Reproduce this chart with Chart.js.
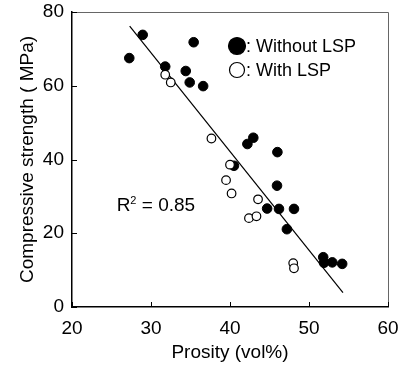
<!DOCTYPE html>
<html>
<head>
<meta charset="utf-8">
<script src="https://cdn.jsdelivr.net/npm/chart.js@4.4.1/dist/chart.umd.min.js"></script>
<style>
  html, body { margin: 0; padding: 0; background: #fff; }
  #wrap { width: 399px; height: 366px; }
</style>
</head>
<body>
<div id="wrap"><canvas id="strengthChart" width="399" height="366"></canvas></div>
<script>
// porosity (vol%) vs compressive strength (MPa)
const porosityWithout = [27.25, 28.95, 35.4, 31.8, 34.4, 34.9, 36.6, 42.95, 42.2, 46.0, 40.5, 45.95, 44.7, 46.2, 48.1, 47.2, 51.8, 51.9, 52.95, 54.2];
const strengthWithout = [67.5, 73.8, 71.8, 65.2, 64.0, 60.9, 59.9, 45.9, 44.2, 42.0, 38.3, 32.9, 26.7, 26.6, 26.6, 21.1, 13.5, 12.0, 12.1, 11.7];

const porosityWith = [31.8, 32.5, 37.65, 40.0, 39.5, 40.2, 43.55, 42.4, 43.35, 48.0, 48.1];
const strengthWith = [63.0, 60.9, 45.7, 38.6, 34.4, 30.8, 29.2, 24.1, 24.6, 11.9, 10.5];

// linear fit drawn across the data
const fitX = [27.3, 54.3];
const fitY = [76.2, 3.9];
const rSquared = "0.85";

const xTicks = [20, 30, 40, 50, 60];
const yTicks = [0, 20, 40, 60, 80];

const FONT = "'Liberation Sans', Arial, sans-serif";

function toPoints(xs, ys) {
  return xs.map((x, i) => ({ x: x, y: ys[i] }));
}

// inward tick marks, box frame, R² note and marker legend
const decorations = {
  id: 'decorations',
  afterDatasetsDraw(chart) {
    const ctx = chart.ctx;
    const area = chart.chartArea;
    const xs = chart.scales.x;
    const ys = chart.scales.y;
    ctx.save();

    // top and right frame
    ctx.strokeStyle = '#666';
    ctx.lineWidth = 1;
    ctx.beginPath();
    ctx.moveTo(area.left, area.top + 0.5);
    ctx.lineTo(area.right + 0.5, area.top + 0.5);
    ctx.lineTo(area.right + 0.5, area.bottom);
    ctx.stroke();

    // tick marks pointing into the plot
    ctx.strokeStyle = '#000';
    ctx.lineWidth = 1;
    ctx.beginPath();
    xTicks.forEach(v => {
      const px = Math.round(xs.getPixelForValue(v)) + 0.5;
      ctx.moveTo(px, area.bottom);
      ctx.lineTo(px, area.bottom - 5);
    });
    yTicks.forEach(v => {
      const py = Math.round(ys.getPixelForValue(v)) + 0.5;
      ctx.moveTo(area.left, py);
      ctx.lineTo(area.left + 5, py);
    });
    ctx.stroke();

    // R² annotation
    ctx.fillStyle = '#000';
    ctx.textBaseline = 'alphabetic';
    ctx.textAlign = 'left';
    let tx = xs.getPixelForValue(25.65);
    const ty = ys.getPixelForValue(26.0);
    ctx.font = '19px ' + FONT;
    ctx.fillText('R', tx, ty);
    tx += ctx.measureText('R').width;
    ctx.font = '11px ' + FONT;
    ctx.fillText('2', tx, ty - 7);
    tx += ctx.measureText('2').width;
    ctx.font = '19px ' + FONT;
    ctx.fillText(' = ' + rSquared, tx, ty);

    // legend
    const rows = [
      { ds: chart.data.datasets[1], cy: area.top + 34 },
      { ds: chart.data.datasets[0], cy: area.top + 58 }
    ];
    const cx = area.left + 165;
    rows.forEach((row, i) => {
      ctx.beginPath();
      ctx.arc(cx, row.cy, i === 0 ? 8.5 : 7.5, 0, Math.PI * 2);
      ctx.fillStyle = row.ds.backgroundColor;
      ctx.fill();
      ctx.lineWidth = 1.2;
      ctx.strokeStyle = '#000';
      ctx.stroke();
      ctx.fillStyle = '#000';
      ctx.font = '18px ' + FONT;
      ctx.textBaseline = 'middle';
      ctx.fillText(': ' + row.ds.label, cx + 9, row.cy + 1);
    });
    ctx.restore();
  }
};

new Chart(document.getElementById('strengthChart').getContext('2d'), {
  type: 'scatter',
  data: {
    datasets: [
      {
        label: 'With LSP',
        data: toPoints(porosityWith, strengthWith),
        backgroundColor: '#fff',
        borderColor: '#000',
        borderWidth: 1.2,
        pointRadius: 4.3,
        order: 1
      },
      {
        label: 'Without LSP',
        data: toPoints(porosityWithout, strengthWithout),
        backgroundColor: '#000',
        borderColor: '#000',
        borderWidth: 1,
        pointRadius: 4.8,
        order: 2
      },
      {
        label: 'fit',
        data: toPoints(fitX, fitY),
        showLine: true,
        borderColor: '#000',
        borderWidth: 1.2,
        pointRadius: 0,
        order: 3
      }
    ]
  },
  options: {
    responsive: false,
    animation: false,
    events: [],
    layout: { padding: { top: 12, right: 11, left: 0, bottom: 0 } },
    plugins: {
      legend: { display: false },
      tooltip: { enabled: false }
    },
    scales: {
      x: {
        type: 'linear',
        min: 20, max: 60,
        afterFit: s => { s.height = 59; s.paddingLeft = 0; s.paddingRight = 0; },
        afterBuildTicks: s => { s.ticks = xTicks.map(v => ({ value: v })); },
        grid: { display: false, drawTicks: false },
        border: { display: true, color: '#000', width: 1.5 },
        ticks: { color: '#000', padding: 10, font: { family: FONT, size: 19 } },
        title: {
          display: true,
          text: 'Prosity (vol%)',
          color: '#000',
          font: { family: FONT, size: 19 },
          padding: { top: 0, bottom: 2 }
        }
      },
      y: {
        type: 'linear',
        min: 0, max: 80,
        afterFit: s => { s.width = 72; s.paddingTop = 0; s.paddingBottom = 0; },
        afterBuildTicks: s => { s.ticks = yTicks.map(v => ({ value: v })); },
        grid: { display: false, drawTicks: false },
        border: { display: true, color: '#000', width: 1.5 },
        ticks: { color: '#000', padding: 8, font: { family: FONT, size: 19 } },
        title: {
          display: true,
          text: 'Compressive strength ( MPa)',
          color: '#000',
          font: { family: FONT, size: 19 },
          padding: { top: 16, bottom: 0 }
        }
      }
    }
  },
  plugins: [decorations]
});
</script>
</body>
</html>
